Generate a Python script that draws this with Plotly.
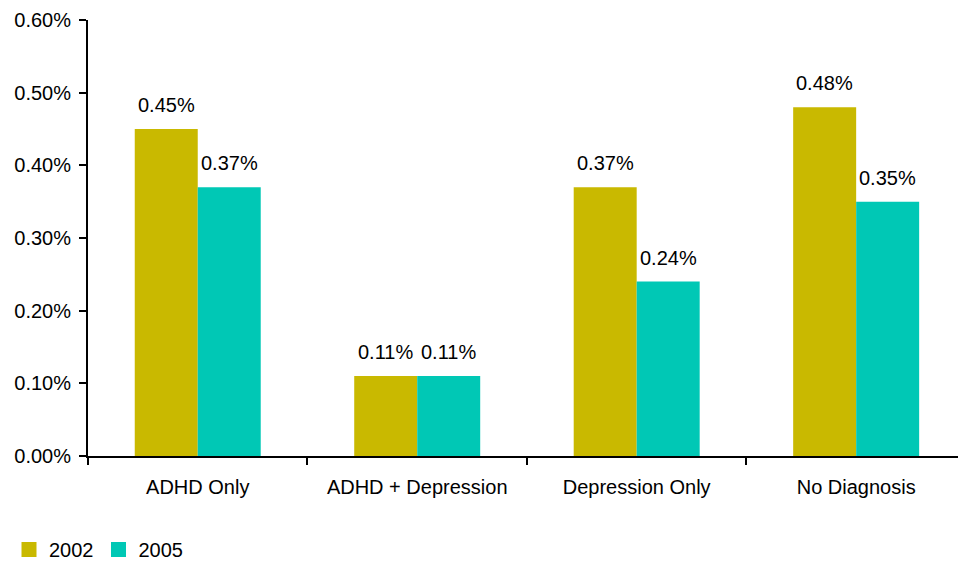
import plotly.graph_objects as go

categories = ["ADHD Only", "ADHD + Depression", "Depression Only", "No Diagnosis"]
series_names = ["2002", "2005"]
values_2002 = [0.0045, 0.0011, 0.0037, 0.0048]
values_2005 = [0.0037, 0.0011, 0.0024, 0.0035]
y_ticks = [0, 0.001, 0.002, 0.003, 0.004, 0.005, 0.006]

colors = ["#C9B900", "#00C8B5"]
FS = 20
font = dict(family="Liberation Sans, Arial, sans-serif", size=FS, color="#000000")

fig = go.Figure()
annotations = []
offsets = [-31.5, 31.5]
for name, vals, col, off in zip(series_names, [values_2002, values_2005], colors, offsets):
    fig.add_trace(go.Bar(
        x=categories, y=vals, name=name, marker=dict(color=col, line=dict(width=0)),
        showlegend=False, hoverinfo="x+y",
    ))
    fig.add_trace(go.Scatter(
        x=[None], y=[None], mode="markers", name=name,
        marker=dict(symbol="square", size=15, color=col), showlegend=True,
    ))
    for c, v in zip(categories, vals):
        annotations.append(dict(
            x=c, y=v, xref="x", yref="y", text=f"{v*100:.2f}%",
            showarrow=False, xanchor="center", yanchor="bottom",
            xshift=off, yshift=11, font=font,
        ))

fig.update_layout(
    width=958, height=563,
    margin=dict(l=88, r=0, t=20, b=107, autoexpand=False),
    paper_bgcolor="white", plot_bgcolor="white",
    font=font,
    barmode="group", bargap=0.426, bargroupgap=0,
    showlegend=True,
    annotations=annotations,
    legend=dict(orientation="h", x=9 / 958, xref="container", y=1 - 530 / 563, yref="container",
                xanchor="left", yanchor="top",
                font=dict(size=FS), itemwidth=30, tracegroupgap=0),
    xaxis=dict(
        range=[-0.5, 3.464], showline=True, linecolor="black", linewidth=2,
        ticks="outside", tickson="boundaries", ticklen=7, tickwidth=2, tickcolor="black",
        ticklabelstandoff=12, showgrid=False,
    ),
    yaxis=dict(
        range=[0, 0.006], tickvals=y_ticks, tickformat=".2%",
        showline=True, linecolor="black", linewidth=2,
        ticks="outside", ticklen=7, tickwidth=2, tickcolor="black",
        showgrid=False, zeroline=False, ticklabelstandoff=4,
    ),
)

fig.write_html("out.html")
